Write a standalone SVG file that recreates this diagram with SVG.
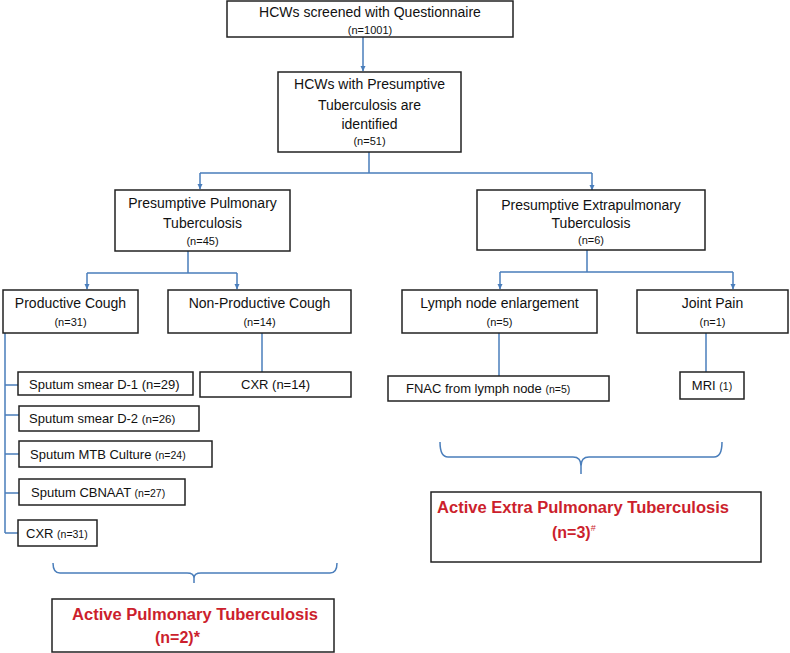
<svg xmlns="http://www.w3.org/2000/svg" width="790" height="653" viewBox="0 0 790 653">
<defs>
<marker id="ah" markerWidth="6" markerHeight="6" refX="5" refY="3" orient="auto" markerUnits="userSpaceOnUse">
<path d="M0,0.5 L5.5,3 L0,5.5 z" fill="#4a7ebb"/>
</marker>
<style>
.box{fill:#fff;stroke:#222;stroke-width:1.5}
.t{font-family:"Liberation Sans",Arial,sans-serif;fill:#111;text-anchor:middle}
.l{font-family:"Liberation Sans",Arial,sans-serif;fill:#111}
.s{font-size:11px}
.m{font-size:14px}
.b{font-size:13px}
.red{font-family:"Liberation Sans",Arial,sans-serif;fill:#cc1f2d;font-weight:bold;font-size:16px}
.c{fill:none;stroke:#4a7ebb;stroke-width:1.5}
</style>
</defs>
<rect width="790" height="653" fill="#fff"/>
<g id="connectors">
<path class="c" d="M363,37 V71" marker-end="url(#ah)"/>
<path class="c" d="M369,152 V173 M200,173 H592"/>
<path class="c" d="M200,173 V189" marker-end="url(#ah)"/>
<path class="c" d="M592,173 V190" marker-end="url(#ah)"/>
<path class="c" d="M188,251 V273 M87,273 H237"/>
<path class="c" d="M87,273 V289" marker-end="url(#ah)"/>
<path class="c" d="M237,273 V289" marker-end="url(#ah)"/>
<path class="c" d="M587,250 V272 M500,272 H733"/>
<path class="c" d="M500,272 V289" marker-end="url(#ah)"/>
<path class="c" d="M733,272 V289" marker-end="url(#ah)"/>
<path class="c" d="M5,333 V533 M5,385 H18 M5,415 H19 M5,454 H19 M5,493 H19 M5,533 H18"/>
<path class="c" d="M262,333 V372"/>
<path class="c" d="M499,333 V376"/>
<path class="c" d="M706,333 V372"/>
<path class="c" d="M440,442 Q440,457 448,457 H573 Q581,457 581,466 V474 M581,466 Q581,457 589,457 H714 Q722,457 722,442"/>
<path class="c" d="M53,563 Q53,573 60,573 H187 Q194,573 194,578 V583 M194,578 Q194,573 201,573 H330 Q337,573 337,563"/>
</g>
<g id="screened">
<rect class="box" x="227" y="1" width="286" height="36"/>
<text class="t m" x="370" y="17">HCWs screened with Questionnaire</text>
<text class="t s" x="370" y="34">(n=1001)</text>
</g>
<g id="presumptive">
<rect class="box" x="278" y="72" width="183" height="80"/>
<text class="t m" x="369.5" y="89">HCWs with Presumptive</text>
<text class="t m" x="369.5" y="110">Tuberculosis are</text>
<text class="t m" x="369.5" y="129">identified</text>
<text class="t s" x="369.5" y="145">(n=51)</text>
</g>
<g id="pulmonary">
<rect class="box" x="115" y="190" width="175" height="61"/>
<text class="t m" x="202.5" y="208">Presumptive Pulmonary</text>
<text class="t m" x="202.5" y="228">Tuberculosis</text>
<text class="t s" x="202.5" y="245">(n=45)</text>
</g>
<g id="extrapulmonary">
<rect class="box" x="477" y="190" width="228" height="60"/>
<text class="t m" x="591" y="210">Presumptive Extrapulmonary</text>
<text class="t m" x="591" y="228">Tuberculosis</text>
<text class="t s" x="591" y="244">(n=6)</text>
</g>
<g id="productive">
<rect class="box" x="3" y="290" width="135" height="43"/>
<text class="t m" x="70.5" y="308">Productive Cough</text>
<text class="t s" x="70.5" y="326">(n=31)</text>
</g>
<g id="nonproductive">
<rect class="box" x="168" y="290" width="183" height="43"/>
<text class="t m" x="259.5" y="308">Non-Productive Cough</text>
<text class="t s" x="259.5" y="326">(n=14)</text>
</g>
<g id="lymph">
<rect class="box" x="402" y="290" width="195" height="43"/>
<text class="t m" x="499.5" y="308">Lymph node enlargement</text>
<text class="t s" x="499.5" y="326">(n=5)</text>
</g>
<g id="joint">
<rect class="box" x="637" y="290" width="151" height="43"/>
<text class="t m" x="712.5" y="308">Joint Pain</text>
<text class="t s" x="712.5" y="326">(n=1)</text>
</g>
<g id="smear1">
<rect class="box" x="18" y="372" width="175" height="23"/>
<text class="l b" x="29" y="389">Sputum smear D-1 (n=29)</text>
</g>
<g id="smear2">
<rect class="box" x="19" y="406" width="180" height="25"/>
<text class="l b" x="29" y="423">Sputum smear D-2 <tspan font-size="11.5">(n=26)</tspan></text>
</g>
<g id="culture">
<rect class="box" x="19" y="441" width="193" height="26"/>
<text class="l b" x="30" y="459">Sputum MTB Culture <tspan font-size="10.5">(n=24)</tspan></text>
</g>
<g id="cbnaat">
<rect class="box" x="19" y="479" width="166" height="26"/>
<text class="l b" x="31" y="497">Sputum CBNAAT <tspan font-size="10.5">(n=27)</tspan></text>
</g>
<g id="cxr31">
<rect class="box" x="18" y="520" width="79" height="26"/>
<text class="l b" x="26" y="538">CXR <tspan font-size="10.5">(n=31)</tspan></text>
</g>
<g id="cxr14">
<rect class="box" x="200" y="372" width="151" height="25"/>
<text class="t b" x="275.5" y="389">CXR (n=14)</text>
</g>
<g id="fnac">
<rect class="box" x="388" y="376" width="221" height="25"/>
<text class="l b" x="406" y="393">FNAC from lymph node <tspan font-size="10.5">(n=5)</tspan></text>
</g>
<g id="mri">
<rect class="box" x="680" y="372" width="64" height="27"/>
<text class="t b" x="712" y="390">MRI <tspan font-size="10.5">(1)</tspan></text>
</g>
<g id="active-extra">
<rect class="box" x="431" y="492" width="330" height="70"/>
<text class="red" x="437" y="513" textLength="292" lengthAdjust="spacingAndGlyphs">Active Extra Pulmonary Tuberculosis</text>
<text class="red" x="552" y="538">(n=3)<tspan font-size="9" font-weight="normal" dy="-7">#</tspan></text>
</g>
<g id="active-pulm">
<rect class="box" x="52" y="599" width="282" height="53"/>
<text class="red" x="72" y="620" textLength="246" lengthAdjust="spacingAndGlyphs">Active Pulmonary Tuberculosis</text>
<text class="red" x="155" y="643">(n=2)*</text>
</g>
</svg>
